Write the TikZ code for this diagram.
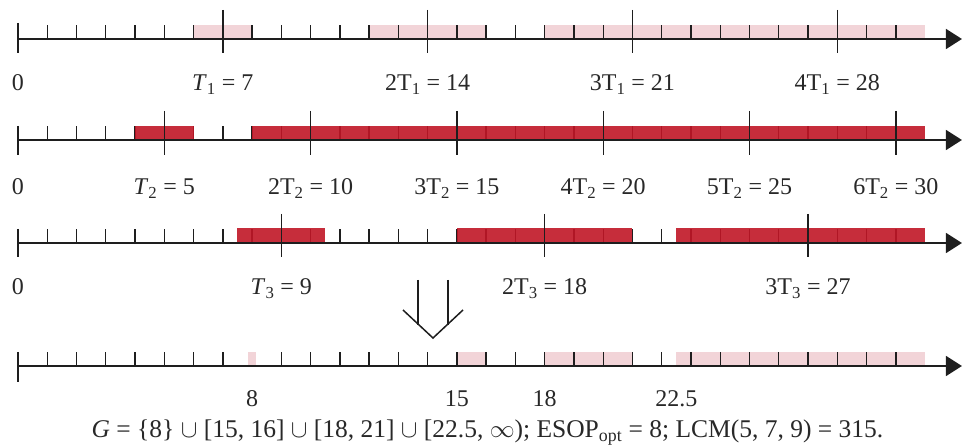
\documentclass[tikz,border=0pt]{standalone}
\usepackage{fontspec}
\setmainfont{Liberation Serif}
\usetikzlibrary{arrows.meta}
\definecolor{pinkc}{RGB}{242,212,216}
\definecolor{redc}{RGB}{192,22,38}
\definecolor{axisc}{RGB}{30,30,30}
\definecolor{textc}{RGB}{40,40,40}
\tikzset{
  axisline/.style={line width=1.6pt, draw=axisc, -{Triangle[length=16pt,width=20pt]}},
  tk/.style={line width=1.4pt, draw=axisc},
  pinkband/.style={fill=pinkc, draw=none},
  redband/.style={fill=redc, fill opacity=0.9, draw=none},
  lbl/.style={text=textc, font=\fontsize{24}{26}\selectfont, inner sep=0pt, anchor=base},
  fml/.style={text=textc, font=\fontsize{25.5}{28}\selectfont, inner sep=0pt, anchor=base},
  bigarrow/.style={line width=1.5pt, draw=axisc, line join=miter},
}
\begin{document}
\begin{tikzpicture}[x=1pt,y=-1pt]
\useasboundingbox (0,0) rectangle (962,446);
% ---------- row 1 ----------
\begin{scope}[shift={(18,39)},x=29.26pt]
  \fill[pinkband] (6,-14) rectangle (8,0);
  \fill[pinkband] (12,-14) rectangle (16,0);
  \fill[pinkband] (18,-14) rectangle (31,0);
  \foreach \t in {1,...,30} \draw[tk] (\t,0) -- (\t,-14);
  \foreach \t in {7,14,21,28} \draw[tk] (\t,-29) -- (\t,14);
  \draw[tk] (0,-16) -- (0,14);
  \draw[axisline] (0,0) -- (32.26,0);
  \node[lbl] (r1a) at (0,52) {0};
  \node[lbl] (r1b) at (7,52) {\textit{T}\textsubscript{1} = 7};
  \node[lbl] (r1c) at (14,52) {2T\textsubscript{1} = 14};
  \node[lbl] (r1d) at (21,52) {3T\textsubscript{1} = 21};
  \node[lbl] (r1e) at (28,52) {4T\textsubscript{1} = 28};
\end{scope}
% ---------- row 2 ----------
\begin{scope}[shift={(18,140)},x=29.26pt]
  \foreach \t in {1,...,29} \draw[tk] (\t,0) -- (\t,-14);
  \fill[redband] (4,-14) rectangle (6,1.5);
  \fill[redband] (8,-14) rectangle (31,1.5);
  \foreach \t in {5,10,...,30} \draw[tk] (\t,-29) -- (\t,15);
  \draw[tk] (0,-14) -- (0,15);
  \draw[axisline] (0,0) -- (32.26,0);
  \node[lbl] (r2a) at (0,55) {0};
  \node[lbl] (r2b) at (5,55) {\textit{T}\textsubscript{2} = 5};
  \node[lbl] (r2c) at (10,55) {2T\textsubscript{2} = 10};
  \node[lbl] (r2d) at (15,55) {3T\textsubscript{2} = 15};
  \node[lbl] (r2e) at (20,55) {4T\textsubscript{2} = 20};
  \node[lbl] (r2f) at (25,55) {5T\textsubscript{2} = 25};
  \node[lbl] (r2g) at (30,55) {6T\textsubscript{2} = 30};
\end{scope}
% ---------- row 3 ----------
\begin{scope}[shift={(18,243)},x=29.26pt]
  \foreach \t in {1,...,30} \draw[tk] (\t,0) -- (\t,-14);
  \fill[redband] (7.5,-15) rectangle (10.5,1);
  \fill[redband] (15,-15) rectangle (21,1);
  \fill[redband] (22.5,-15) rectangle (31,1);
  \foreach \t in {9,18,27} \draw[tk] (\t,-29) -- (\t,14);
  \draw[tk] (0,-14) -- (0,14);
  \draw[axisline] (0,0) -- (32.26,0);
  \node[lbl] (r3a) at (0,52) {0};
  \node[lbl] (r3b) at (9,52) {\textit{T}\textsubscript{3} = 9};
  \node[lbl] (r3c) at (18,52) {2T\textsubscript{3} = 18};
  \node[lbl] (r3d) at (27,52) {3T\textsubscript{3} = 27};
\end{scope}
% ---------- big down arrow ----------
\draw[bigarrow] (418,280) -- (418,325);
\draw[bigarrow] (448,280) -- (448,325);
\draw[bigarrow] (403,310) -- (433,338) -- (463,310);
% ---------- row 4 ----------
\begin{scope}[shift={(18,366)},x=29.26pt]
  \fill[pinkband] (15,-14) rectangle (16,0);
  \fill[pinkband] (18,-14) rectangle (21,0);
  \fill[pinkband] (22.5,-14) rectangle (31,0);
  \foreach \t in {1,...,7,9,10,...,30} \draw[tk] (\t,0) -- (\t,-14);
  \fill[pinkband] (7.85,-14) rectangle (8.15,0);
  \draw[tk] (0,-14) -- (0,16);
  \draw[axisline] (0,0) -- (32.26,0);
  \node[lbl] (r4a) at (8,41) {8};
  \node[lbl] (r4b) at (15,41) {15};
  \node[lbl] (r4c) at (18,41) {18};
  \node[lbl] (r4d) at (22.5,41) {22.5};
\end{scope}
\node[fml] (formula) at (487.5,438) {\textit{G} = \{8\} $\cup$ [15, 16] $\cup$ [18, 21] $\cup$ [22.5, $\infty$); ESOP\textsubscript{opt} = 8; LCM(5, 7, 9) = 315.};
\end{tikzpicture}
\end{document}
